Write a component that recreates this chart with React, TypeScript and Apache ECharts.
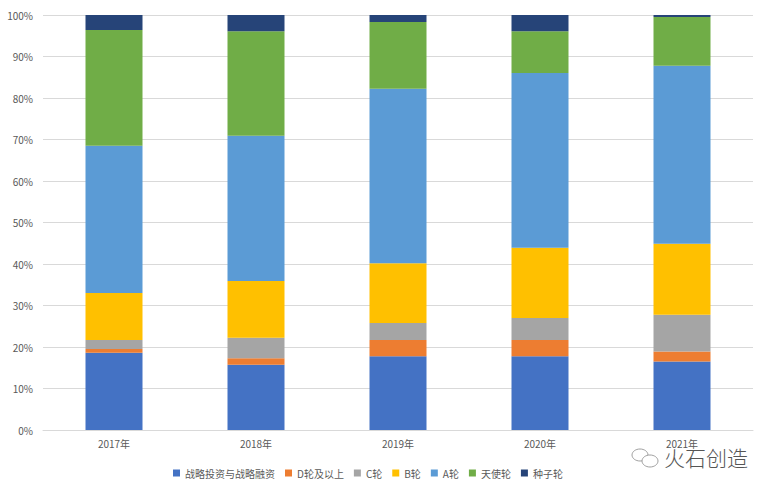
import React, { useEffect, useRef } from "react";
import * as echarts from "echarts";

const categories = ["2017年", "2018年", "2019年", "2020年", "2021年"];
const seriesNames = ["战略投资与战略融资", "D轮及以上", "C轮", "B轮", "A轮", "天使轮", "种子轮"];
const strategic = [18.6, 15.7, 17.8, 17.8, 16.5];
const roundD = [0.9, 1.6, 3.9, 3.9, 2.4];
const roundC = [2.2, 4.9, 4.1, 5.3, 8.9];
const roundB = [11.3, 13.7, 14.4, 16.9, 17.1];
const roundA = [35.5, 35.0, 42.0, 42.1, 42.9];
const angel = [27.9, 25.2, 16.1, 10.1, 11.7];
const seed = [3.6, 3.9, 1.7, 3.9, 0.5];
const colors = ["#4472C4", "#ED7D31", "#A5A5A5", "#FFC000", "#5B9BD5", "#70AD47", "#264478"];

const FONT = "'Noto Sans CJK SC', 'Noto Sans', sans-serif";

export default function App() {
  const ref = useRef<HTMLDivElement>(null);
  useEffect(() => {
    if (!ref.current) return;
    const chart = echarts.init(ref.current, undefined, { renderer: "svg" });
    const values = [strategic, roundD, roundC, roundB, roundA, angel, seed];
    chart.setOption({
      animation: false,
      color: colors,
      textStyle: { fontFamily: FONT },
      grid: { left: 43, right: 15, top: 15, bottom: 60, containLabel: false },
      legend: {
        left: 168,
        top: 463,
        itemWidth: 7,
        itemHeight: 7,
        itemGap: 10,
        icon: "rect",
        textStyle: { fontSize: 10, color: "#595959", fontFamily: FONT },
        data: seriesNames,
      },
      xAxis: {
        type: "category",
        data: categories,
        axisLine: { lineStyle: { color: "#D9D9D9", width: 1 } },
        axisTick: { show: false },
        axisLabel: { color: "#595959", fontSize: 10, margin: 8, fontFamily: FONT },
      },
      yAxis: {
        type: "value",
        min: 0,
        max: 100,
        interval: 10,
        axisLine: { show: false },
        axisTick: { show: false },
        splitLine: { lineStyle: { color: "#D9D9D9", width: 1 } },
        axisLabel: { color: "#595959", fontSize: 10, margin: 10, formatter: "{value}%", fontFamily: FONT },
      },
      series: seriesNames.map((name, i) => ({
        name,
        type: "bar",
        stack: "total",
        barWidth: 57,
        data: values[i],
      })),
      graphic: [
        {
          type: "text",
          left: 664,
          top: 446,
          style: { text: "火石创造", fontSize: 21, fill: "#555", fontFamily: FONT, fontWeight: 300 },
        },
        {
          type: "ellipse",
          shape: { cx: 640, cy: 455, rx: 8, ry: 6 },
          style: { fill: "none", stroke: "#888", lineWidth: 0.8 },
        },
        {
          type: "ellipse",
          shape: { cx: 650, cy: 461, rx: 8, ry: 6 },
          style: { fill: "#fff", stroke: "#888", lineWidth: 0.8 },
        },
      ],
    });
    return () => chart.dispose();
  }, []);
  return (
    <div
      ref={ref}
      style={{ position: "fixed", left: 0, top: 0, width: 768, height: 490, background: "#fff" }}
    />
  );
}
